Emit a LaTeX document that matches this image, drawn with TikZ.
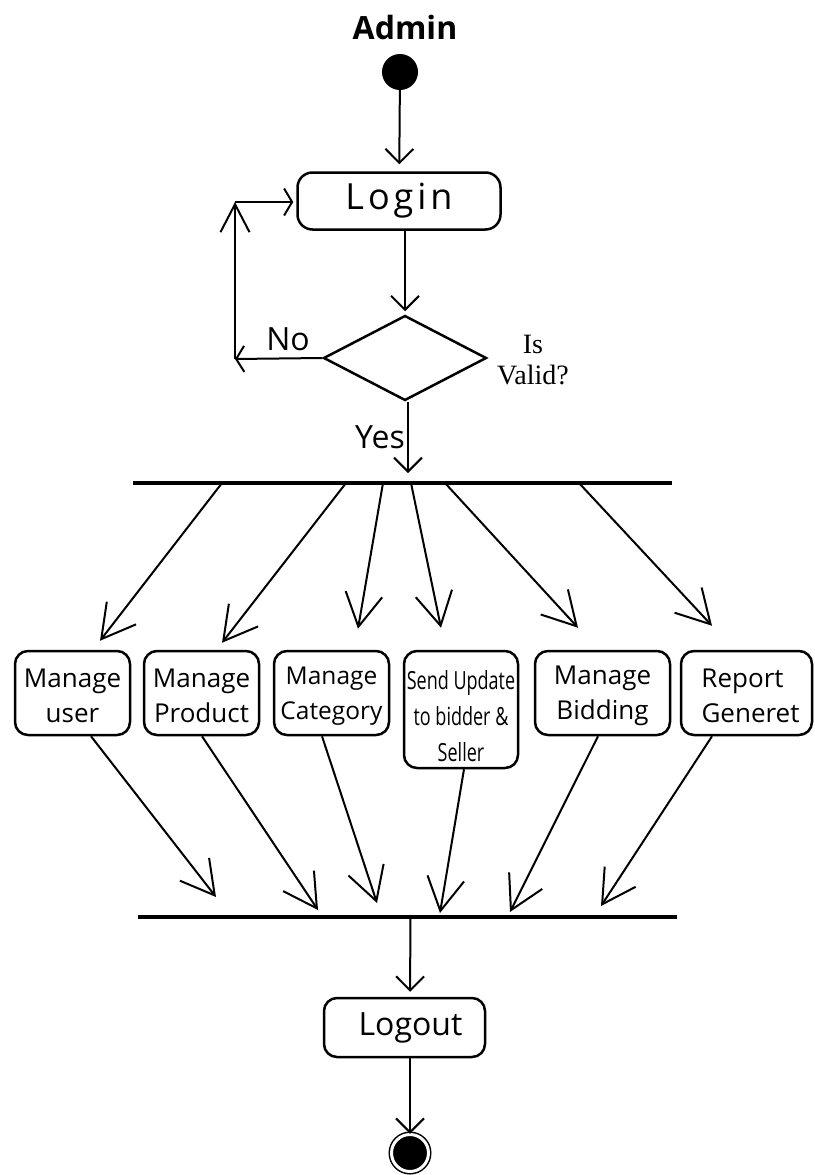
\documentclass[tikz,border=0pt]{standalone}
\usepackage{fontspec}
\usetikzlibrary{arrows.meta,shapes.geometric}
\newfontfamily\osans{Open Sans}
\newfontfamily\ocond[FakeStretch=0.72]{Open Sans}
\newfontfamily\lserif{Liberation Serif}

\tikzset{
  act/.style={draw, line width=2.5pt, rounded corners=13pt, inner sep=0pt,
    align=center, font=\osans\fontsize{26}{35}\selectfont},
  bar/.style={fill, minimum height=3.5pt, inner sep=0pt, minimum width=539pt},
  conn/.style={line width=2pt, -{Straight Barb[length=14pt,width=28pt]}},
  flow/.style={line width=2pt, -{Straight Barb[length=33pt,width=37pt]}},
  lbl/.style={inner sep=0pt, font=\osans\fontsize{32}{36}\selectfont},
}

\begin{document}
\begin{tikzpicture}[x=1pt,y=-1pt]
  \fill[white] (0,0) rectangle (814,1175);
  \useasboundingbox (0,0) rectangle (814,1175);

  % title and initial node
  \node[inner sep=0pt, font=\osans\bfseries\fontsize{32}{36}\selectfont] (title) at (405,27) {Admin};
  \node[circle, fill, minimum size=36pt, inner sep=0pt] (start) at (400,72) {};

  % login and validation
  \node[act, rounded corners=15pt, minimum width=203pt, minimum height=57pt,
        font=\osans\fontsize{36}{40}\selectfont] (login) at (399,201)
        {\addfontfeature{LetterSpace=11}Login};
  \node[diamond, draw, line width=2.5pt, minimum width=163pt, minimum height=85pt,
        inner sep=0pt] (valid) at (405,358) {};
  \node[inner sep=0pt, align=center, font=\lserif\fontsize{28}{31}\selectfont] (isvalid) at (533,360) {Is\\Valid?};
  \node[lbl] (no) at (288,339) {No};
  \node[lbl] (yes) at (380,437) {Yes};

  \draw[conn, shorten >=7pt] (start) -- (login);
  \draw[conn, shorten >=3pt] (login.south -| valid.north) -- (valid.north);

  % retry loop
  \coordinate (c1) at (235,359);
  \coordinate (c2) at (235,202);
  \draw[line width=2pt, -{Straight Barb[length=8pt,width=26pt]}] (valid.west) -- (c1);
  \draw[line width=2pt, -{Straight Barb[length=28pt,width=29pt]}] (c1) -- (c2);
  \draw[line width=2pt, -{Straight Barb[length=8pt,width=27pt]}, shorten >=3pt] (c2) -- (login.west |- c2);

  % fork
  \node[bar] (fork) at (402.5,483) {};
  \draw[conn, shorten >=8pt] ([xshift=3pt]valid.south) -- ([xshift=3pt]valid.south |- fork.north);

  % activities
  \node[act, minimum width=115pt, minimum height=84pt] (muser) at (72.5,693) {\rule{0pt}{24pt}Manage\\user};
  \node[act, minimum width=115pt, minimum height=84pt] (mprod) at (201.5,693) {\rule{0pt}{24pt}Manage\\Product};
  \node[act, minimum width=115pt, minimum height=84pt,
        font=\osans\fontsize{24.5}{35}\selectfont] (mcat) at (331.5,693) {\rule{0pt}{24pt}Manage\\Category};
  \node[act, minimum width=114pt, minimum height=117pt,
        font=\ocond\fontsize{25}{36}\selectfont] (send) at (461,709.5) {\rule{0pt}{32pt}Send Update\\to bidder \&\\Seller};
  \node[act, minimum width=135pt, minimum height=84pt] (mbid) at (602.5,693) {\rule{0pt}{24pt}Manage\\Bidding};
  \node[act, minimum width=131pt, minimum height=84pt] (report) at (746.5,693) {\rule{0pt}{24pt}Report\hspace*{8pt}\\\hspace*{8pt}Generet};

  \draw[flow] ([xshift=-180.5pt]fork.center) -- ([xshift=27.5pt,yshift=9pt]muser.north);
  \draw[flow] ([xshift=-56.5pt]fork.center) -- ([xshift=20.5pt,yshift=7pt]mprod.north);
  \draw[flow] ([xshift=-19.5pt]fork.center) -- ([xshift=26.5pt,yshift=21pt]mcat.north);
  \draw[flow] ([xshift=8.5pt]fork.center) -- ([xshift=-20pt,yshift=22pt]send.north);
  \draw[flow] ([xshift=42.5pt]fork.center) -- ([xshift=-24.5pt,yshift=22pt]mbid.north);
  \draw[flow] ([xshift=176.5pt]fork.center) -- ([xshift=-34.5pt,yshift=24pt]report.north);

  % join
  \node[bar] (join) at (407.5,917) {};
  \draw[flow] ([xshift=18.5pt]muser.south) -- ([xshift=-191.5pt,yshift=20pt]join.center);
  \draw[flow] ([xshift=0.5pt]mprod.south) -- ([xshift=-89.5pt,yshift=7pt]join.center);
  \draw[flow] ([xshift=-9.5pt]mcat.south) -- ([xshift=-30.5pt,yshift=14pt]join.center);
  \draw[flow] ([xshift=3pt]send.south) -- ([xshift=32.5pt,yshift=4pt]join.center);
  \draw[flow] ([xshift=-4.5pt]mbid.south) -- ([xshift=102.5pt,yshift=5pt]join.center);
  \draw[flow] ([xshift=-34.5pt]report.south) -- ([xshift=193.5pt,yshift=11pt]join.center);

  % logout and final node
  \node[act, minimum width=161pt, minimum height=59pt,
        font=\osans\fontsize{32}{36}\selectfont] (logout) at (404.5,1027.5) {\hspace*{12pt}Logout};
  \node[circle, fill, draw, double=white, double distance=3pt, line width=1.5pt,
        minimum size=37pt, inner sep=0pt] (stop) at (410,1153) {};

  \draw[conn, shorten >=5pt] ([xshift=3pt]join.center) -- ([xshift=5.5pt]logout.north);
  \draw[conn] ([xshift=5.5pt]logout.south) -- (stop.north);
\end{tikzpicture}
\end{document}
